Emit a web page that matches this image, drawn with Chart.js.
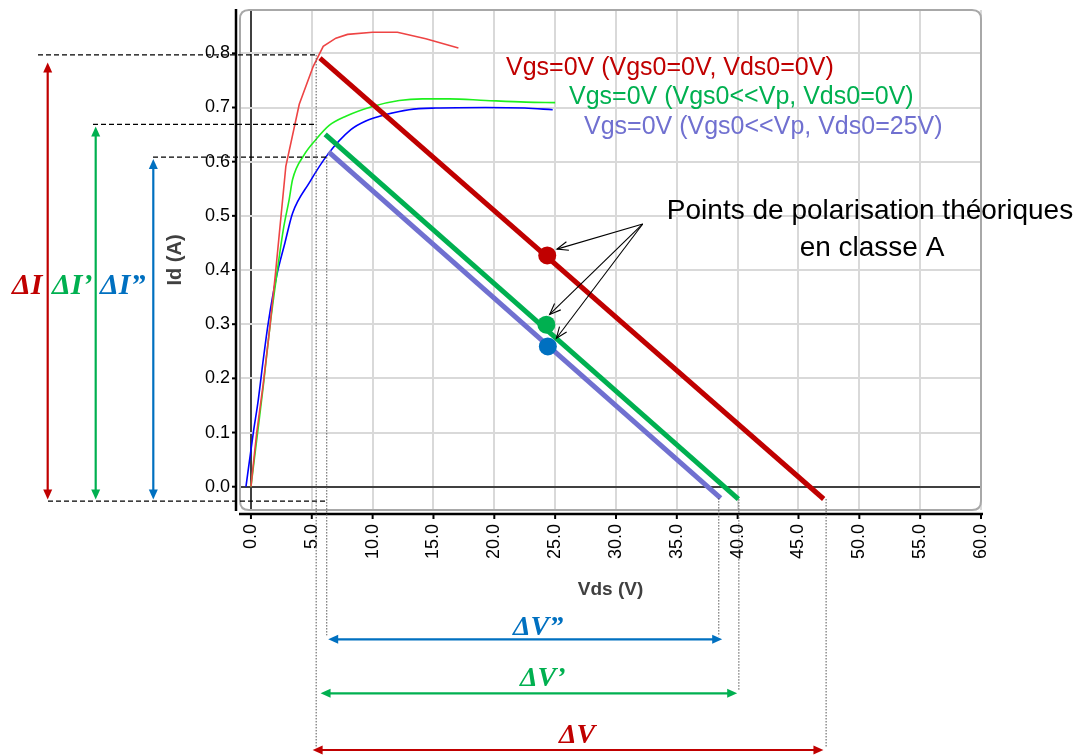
<!DOCTYPE html>
<html>
<head>
<meta charset="utf-8">
<script src="https://cdn.jsdelivr.net/npm/chart.js@4.4.1/dist/chart.umd.min.js"></script>
<style>
  html, body { margin: 0; padding: 0; background: #ffffff; }
  #wrap { width: 1079px; height: 756px; position: relative; }
  canvas { display: block; }
</style>
</head>
<body>
<div id="wrap"><canvas id="chart" width="1079" height="756"></canvas></div>
<script>
// Axis ticks
const vdsTicks = [0, 5, 10, 15, 20, 25, 30, 35, 40, 45, 50, 55, 60];
const idTicks = [0, 0.1, 0.2, 0.3, 0.4, 0.5, 0.6, 0.7, 0.8];

const seriesNames = [
  'Vgs=0V (Vgs0=0V, Vds0=0V)',
  'Vgs=0V (Vgs0<<Vp, Vds0=0V)',
  'Vgs=0V (Vgs0<<Vp, Vds0=25V)'
];

// Output characteristics Id(Vds) at Vgs=0V for three bias histories
const vdsA = [0, 0.47, 1.01, 1.56, 2.0, 2.87, 3.97, 5.12, 5.94, 6.98, 7.94, 9.99, 12.04, 14.37, 17.05];
const idA  = [0, 0.099, 0.19, 0.296, 0.39, 0.592, 0.706, 0.776, 0.813, 0.828, 0.835, 0.839, 0.839, 0.827, 0.810];

const vdsB = [0, 0.47, 1.01, 1.56, 2.1, 2.7, 3.14, 3.42, 4.38, 5.34, 6.43, 7.8, 9.99, 12.18, 14.1, 16.3, 19.3, 22.6, 25.0];
const idB  = [0, 0.086, 0.185, 0.296, 0.388, 0.48, 0.53, 0.567, 0.613, 0.641, 0.667, 0.684, 0.702, 0.713, 0.716, 0.716, 0.713, 0.710, 0.709];

const vdsC = [-0.41, 0.19, 0.6, 1.01, 1.42, 2.1, 2.79, 3.42, 4.79, 6.3, 8.21, 9.44, 11.08, 13.0, 15.19, 19.3, 22.5, 24.8];
const idC  = [0, 0.099, 0.16, 0.234, 0.302, 0.388, 0.45, 0.505, 0.561, 0.613, 0.659, 0.675, 0.687, 0.696, 0.699, 0.700, 0.699, 0.696];

// Load lines (start at the knee, end at the cut-off voltage)
const loadVdsA = [5.67, 47.07];
const loadIdA  = [0.791, -0.0227];
const loadVdsB = [6.1, 40.06];
const loadIdB  = [0.6505, -0.023];
const loadVdsC = [6.38, 38.6];
const loadIdC  = [0.618, -0.021];

// Theoretical class A bias points
const biasVds = [24.35, 24.28, 24.4];
const biasId  = [0.427, 0.299, 0.259];

// Current / voltage swing markers
const swingIdTop = [0.797, 0.669, 0.6085];
const swingIdBottom = -0.0265;
const swingVdsLeft = [5.36, 5.36, 6.23];
const swingVdsRight = [47.27, 40.1, 38.45];

const COL_RED = '#c00000', COL_GREEN = '#00b050', COL_BLUE = '#0070c0', COL_PURPLE = '#7070d0';
const SANS = "'Liberation Sans', Arial, sans-serif";
const SERIF = "'Liberation Serif', 'Times New Roman', serif";

const pts = (xs, ys) => xs.map((v, i) => ({ x: v, y: ys[i] }));

function line(ctx, x1, y1, x2, y2) {
  ctx.beginPath(); ctx.moveTo(x1, y1); ctx.lineTo(x2, y2); ctx.stroke();
}
function filledHead(ctx, fx, fy, tx, ty, len, half) {
  const a = Math.atan2(ty - fy, tx - fx), c = Math.cos(a), s = Math.sin(a);
  ctx.beginPath();
  ctx.moveTo(tx, ty);
  ctx.lineTo(tx - len * c + half * s, ty - len * s - half * c);
  ctx.lineTo(tx - len * c - half * s, ty - len * s + half * c);
  ctx.closePath(); ctx.fill();
}
function doubleArrow(ctx, x1, y1, x2, y2, color) {
  const a = Math.atan2(y2 - y1, x2 - x1), c = Math.cos(a), s = Math.sin(a), L = 10;
  ctx.strokeStyle = color; ctx.fillStyle = color; ctx.lineWidth = 2.2; ctx.setLineDash([]);
  line(ctx, x1 + c * L * 0.7, y1 + s * L * 0.7, x2 - c * L * 0.7, y2 - s * L * 0.7);
  filledHead(ctx, x1, y1, x2, y2, L, 4.5);
  filledHead(ctx, x2, y2, x1, y1, L, 4.5);
}
function openArrow(ctx, x1, y1, x2, y2) {
  const a = Math.atan2(y2 - y1, x2 - x1), L = 12, sp = 0.38;
  ctx.strokeStyle = '#000'; ctx.lineWidth = 1.1; ctx.setLineDash([]);
  line(ctx, x1, y1, x2, y2);
  ctx.beginPath();
  ctx.moveTo(x2 - L * Math.cos(a - sp), y2 - L * Math.sin(a - sp));
  ctx.lineTo(x2, y2);
  ctx.lineTo(x2 - L * Math.cos(a + sp), y2 - L * Math.sin(a + sp));
  ctx.stroke();
}
function roundRect(ctx, x, y, w, h, r) {
  ctx.beginPath();
  ctx.moveTo(x + r, y);
  ctx.lineTo(x + w - r, y); ctx.quadraticCurveTo(x + w, y, x + w, y + r);
  ctx.lineTo(x + w, y + h - r); ctx.quadraticCurveTo(x + w, y + h, x + w - r, y + h);
  ctx.lineTo(x + r, y + h); ctx.quadraticCurveTo(x, y + h, x, y + h - r);
  ctx.lineTo(x, y + r); ctx.quadraticCurveTo(x, y, x + r, y);
  ctx.closePath();
}

const decorations = {
  id: 'decorations',
  beforeDatasetsDraw(chart) {
    const { ctx, chartArea: a } = chart;
    ctx.save();
    ctx.strokeStyle = '#a8a8a8'; ctx.lineWidth = 2;
    roundRect(ctx, a.left, a.top, a.right - a.left, a.bottom - a.top, 9);
    ctx.stroke();
    ctx.restore();
  },
  afterDraw(chart) {
    const { ctx, chartArea: a, scales } = chart;
    const X = v => scales.x.getPixelForValue(v);
    const Y = v => scales.y.getPixelForValue(v);
    ctx.save();

    // axis lines and tick marks
    ctx.strokeStyle = '#000'; ctx.lineWidth = 2.5;
    line(ctx, a.left - 4, a.top - 1, a.left - 4, a.bottom + 1);
    line(ctx, a.left - 1, a.bottom + 4, a.right + 2, a.bottom + 4);
    ctx.lineWidth = 2;
    idTicks.forEach(v => line(ctx, a.left - 8, Y(v), a.left - 3, Y(v)));
    vdsTicks.forEach(v => line(ctx, X(v), a.bottom + 3, X(v), a.bottom + 9));

    // dashed reference levels for the current swings
    const armX = [47.7, 95.7, 153.3];
    ctx.strokeStyle = '#000'; ctx.lineWidth = 1.2; ctx.setLineDash([5, 3]);
    line(ctx, 38, Y(swingIdTop[0]), X(swingVdsLeft[0]), Y(swingIdTop[0]));
    line(ctx, 93, Y(swingIdTop[1]), X(swingVdsLeft[1]), Y(swingIdTop[1]));
    line(ctx, 153, Y(swingIdTop[2]), X(swingVdsLeft[2]), Y(swingIdTop[2]));
    line(ctx, 48, Y(swingIdBottom), X(swingVdsLeft[2]), Y(swingIdBottom));

    // dotted reference lines for the voltage swings
    const arrowY = [750, 693.3, 639.3];
    ctx.strokeStyle = '#555'; ctx.lineWidth = 1; ctx.setLineDash([1.5, 1.5]);
    line(ctx, X(swingVdsLeft[0]), Y(swingIdTop[0]), X(swingVdsLeft[0]), arrowY[0] - 2);
    line(ctx, X(swingVdsLeft[2]), Y(swingIdTop[2]), X(swingVdsLeft[2]), arrowY[2] - 4);
    line(ctx, X(swingVdsRight[0]), Y(loadIdA[1]), X(swingVdsRight[0]), arrowY[0] - 2);
    line(ctx, X(swingVdsRight[1]), Y(loadIdB[1]), X(swingVdsRight[1]), arrowY[1] - 3);
    line(ctx, X(swingVdsRight[2]), Y(loadIdC[1]), X(swingVdsRight[2]), arrowY[2] - 3);
    ctx.setLineDash([]);

    // current swing arrows
    const cols = [COL_RED, COL_GREEN, COL_BLUE];
    const armTop = [0.783, 0.665, 0.605];
    armX.forEach((xp, i) => doubleArrow(ctx, xp, Y(armTop[i]), xp, Y(-0.0234), cols[i]));

    // voltage swing arrows
    doubleArrow(ctx, X(5.07), arrowY[0], X(47.05), arrowY[0], COL_RED);
    doubleArrow(ctx, X(5.72), arrowY[1], X(39.96), arrowY[1], COL_GREEN);
    doubleArrow(ctx, X(6.35), arrowY[2], X(38.73), arrowY[2], COL_BLUE);

    // swing labels
    ctx.textAlign = 'left'; ctx.textBaseline = 'alphabetic';
    ctx.font = `italic bold 30px ${SERIF}`;
    ctx.fillStyle = COL_RED;   ctx.fillText('\u0394I', 12, 294);
    ctx.fillStyle = COL_GREEN; ctx.fillText('\u0394I\u2019', 52, 294);
    ctx.fillStyle = COL_BLUE;  ctx.fillText('\u0394I\u201D', 100, 294);
    ctx.font = `italic bold 28px ${SERIF}`;
    ctx.fillStyle = COL_BLUE;  ctx.fillText('\u0394V\u201D', 513, 635);
    ctx.fillStyle = COL_GREEN; ctx.fillText('\u0394V\u2019', 520, 686);
    ctx.fillStyle = COL_RED;   ctx.fillText('\u0394V', 559, 743);

    // series captions
    ctx.font = `25px ${SANS}`;
    ctx.fillStyle = COL_RED;    ctx.fillText(seriesNames[0], 506, 75);
    ctx.fillStyle = COL_GREEN;  ctx.fillText(seriesNames[1], 569, 104);
    ctx.fillStyle = COL_PURPLE; ctx.fillText(seriesNames[2], 584, 134);

    // bias point note
    ctx.font = `28px ${SANS}`;
    ctx.fillStyle = '#000'; ctx.textAlign = 'center';
    ctx.fillText('Points de polarisation th\u00e9oriques', 870, 219);
    ctx.fillText('en classe A', 872, 256);

    // pointers to the bias points
    const ox = X(32.2), oy = Y(0.485);
    openArrow(ctx, ox, oy, X(25.15), Y(0.4386));
    openArrow(ctx, ox, oy, X(24.55), Y(0.318));
    openArrow(ctx, ox, oy, X(25.1), Y(0.274));

    ctx.restore();
  }
};

const gridColor = c => (c.tick && c.tick.value === 0 ? '#404040' : '#d9d9d9');

new Chart(document.getElementById('chart'), {
  type: 'line',
  data: {
    datasets: [
      { label: 'bias A', data: pts([biasVds[0]], [biasId[0]]), showLine: false, pointRadius: 9, pointBackgroundColor: COL_RED, pointBorderWidth: 0 },
      { label: 'bias B', data: pts([biasVds[1]], [biasId[1]]), showLine: false, pointRadius: 9, pointBackgroundColor: COL_GREEN, pointBorderWidth: 0 },
      { label: 'bias C', data: pts([biasVds[2]], [biasId[2]]), showLine: false, pointRadius: 9, pointBackgroundColor: COL_BLUE, pointBorderWidth: 0 },
      { label: 'load A', data: pts(loadVdsA, loadIdA), borderColor: COL_RED, borderWidth: 5, pointRadius: 0 },
      { label: 'load B', data: pts(loadVdsB, loadIdB), borderColor: COL_GREEN, borderWidth: 5, pointRadius: 0 },
      { label: 'load C', data: pts(loadVdsC, loadIdC), borderColor: COL_PURPLE, borderWidth: 5, pointRadius: 0 },
      { label: seriesNames[0], data: pts(vdsA, idA), borderColor: '#ee4444', borderWidth: 1.6, pointRadius: 0, tension: 0 },
      { label: seriesNames[1], data: pts(vdsB, idB), borderColor: '#1ef01e', borderWidth: 1.6, pointRadius: 0, cubicInterpolationMode: 'monotone' },
      { label: seriesNames[2], data: pts(vdsC, idC), borderColor: '#0000ff', borderWidth: 1.6, pointRadius: 0, cubicInterpolationMode: 'monotone' }
    ]
  },
  options: {
    responsive: false,
    animation: false,
    devicePixelRatio: 1,
    layout: { padding: { left: 0, right: 98, top: 10, bottom: 0 } },
    plugins: { legend: { display: false }, tooltip: { enabled: false } },
    scales: {
      x: {
        type: 'linear', min: -0.9, max: 60,
        afterBuildTicks: s => { s.ticks = vdsTicks.map(v => ({ value: v })); },
        afterFit: s => { s.height = 246; s.paddingLeft = 0; s.paddingRight = 0; },
        border: { display: false },
        grid: { color: gridColor, lineWidth: 2, drawTicks: true, tickLength: 8, tickColor: 'rgba(0,0,0,0)' },
        ticks: { color: '#000', padding: 6, minRotation: 90, maxRotation: 90, autoSkip: false,
                 font: { family: SANS, size: 18 }, callback: v => Number(v).toFixed(1) },
        title: { display: true, text: 'Vds (V)', color: '#404040',
                 font: { family: SANS, size: 19, weight: 'bold' }, padding: { top: 0, bottom: 155 } }
      },
      y: {
        type: 'linear', min: -0.043, max: 0.88,
        afterBuildTicks: s => { s.ticks = idTicks.map(v => ({ value: v })); },
        afterFit: s => { s.width = 240; s.paddingTop = 0; s.paddingBottom = 0; },
        border: { display: false },
        grid: { color: gridColor, lineWidth: 2, drawTicks: true, tickLength: 6, tickColor: 'rgba(0,0,0,0)' },
        ticks: { color: '#000', padding: 4, font: { family: SANS, size: 18 },
                 callback: v => Number(v).toFixed(1) },
        title: { display: true, text: 'Id (A)', color: '#404040',
                 font: { family: SANS, size: 20, weight: 'bold' }, padding: { top: 163, bottom: 0 } }
      }
    }
  },
  plugins: [decorations]
});
</script>
</body>
</html>
